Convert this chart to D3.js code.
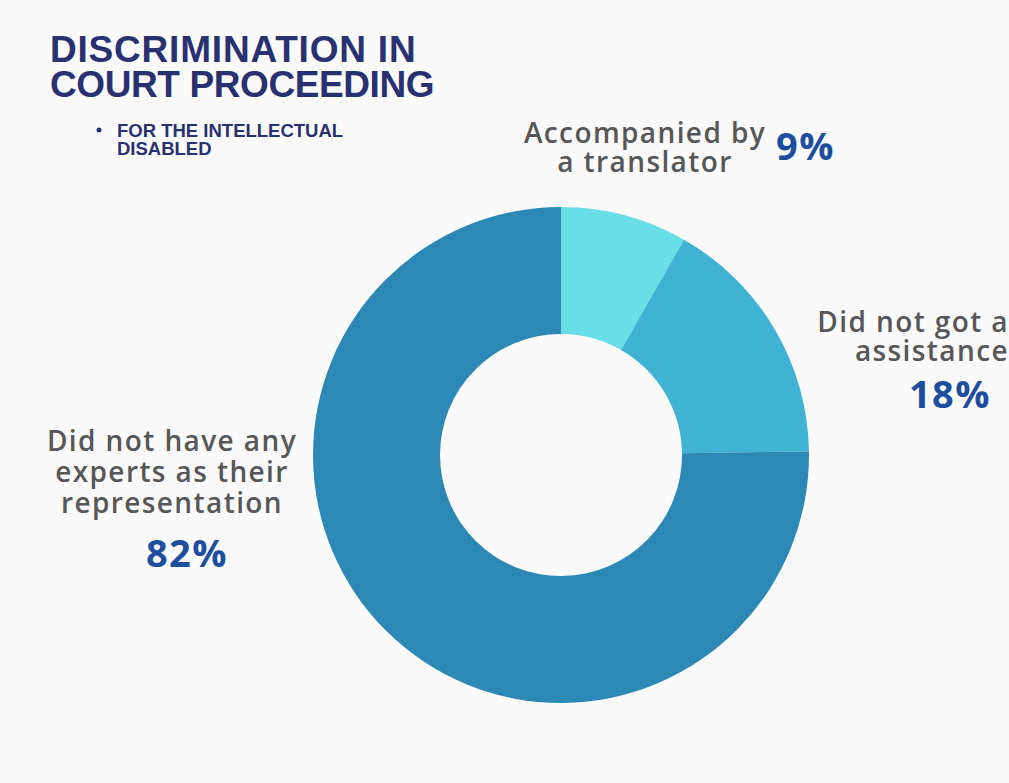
<!DOCTYPE html>
<html>
<head>
<meta charset="utf-8">
<script src="https://cdn.jsdelivr.net/npm/d3@7"></script>
<style>
  body { margin: 0; background: #fafafa; }
  svg { display: block; }
</style>
</head>
<body>
<div id="chart"></div>
<script>
const categories = ["Accompanied by a translator", "Did not got a assistance", "Did not have any experts as their representation"];
const values = [9, 18, 82];
const percentLabels = ["9%", "18%", "82%"];
const colors = ["#68dfe6", "#3eb3d4", "#2c88b5"];

const width = 1009, height = 783;
const cx = 561, cy = 455, outerR = 248, innerR = 121;

const svg = d3.select("#chart")
  .append("svg")
  .attr("width", width)
  .attr("height", height);

svg.append("rect")
  .attr("width", width)
  .attr("height", height)
  .attr("fill", "#fafafa");

// title
const title = svg.append("text")
  .attr("font-family", "Liberation Sans, Arial, sans-serif")
  .attr("font-weight", "bold")
  .attr("font-size", 37)
  .attr("fill", "#2a3170");
title.append("tspan").attr("x", 50).attr("y", 62).attr("letter-spacing", 0.8).text("DISCRIMINATION IN");
title.append("tspan").attr("x", 50).attr("y", 97).attr("letter-spacing", -0.4).text("COURT PROCEEDING");

svg.append("circle")
  .attr("cx", 99)
  .attr("cy", 130)
  .attr("r", 2.5)
  .attr("fill", "#2a3170");

const sub = svg.append("text")
  .attr("font-family", "Liberation Sans, Arial, sans-serif")
  .attr("font-weight", "bold")
  .attr("font-size", 18.5)
  .attr("fill", "#2a3170");
sub.append("tspan").attr("x", 117).attr("y", 137).text("FOR THE INTELLECTUAL");
sub.append("tspan").attr("x", 117).attr("y", 155).text("DISABLED");

// donut
const pie = d3.pie().sort(null).value(d => d)(values);
const arc = d3.arc().innerRadius(innerR).outerRadius(outerR);

svg.append("g")
  .attr("transform", `translate(${cx},${cy})`)
  .selectAll("path")
  .data(pie)
  .join("path")
  .attr("d", arc)
  .attr("fill", (d, i) => colors[i]);

// labels
const labelFont = "Open Sans, Noto Sans, sans-serif";
const grey = "#575757";
const blue = "#1e4f9e";

function labelLines(lines, x, y0, step, anchor) {
  lines.forEach((s, i) => {
    svg.append("text")
      .attr("x", x)
      .attr("y", y0 + i * step)
      .attr("font-family", labelFont)
      .attr("font-weight", 600)
      .attr("font-size", 28)
      .attr("letter-spacing", 1.4)
      .attr("fill", grey)
      .attr("text-anchor", anchor)
      .text(s);
  });
}

function pct(text, x, y, anchor) {
  svg.append("text")
    .attr("x", x)
    .attr("y", y)
    .attr("font-family", labelFont)
    .attr("font-weight", 700)
    .attr("font-size", 38)
    .attr("letter-spacing", 1.5)
    .attr("fill", blue)
    .attr("text-anchor", anchor)
    .text(text);
}

labelLines(["Accompanied by", "a translator"], 645, 143, 29, "middle");
pct(percentLabels[0], 776, 160, "start");

labelLines(["Did not got a", "assistance"], 1009, 332, 29, "end");
pct(percentLabels[1], 950, 408, "middle");

labelLines(["Did not have any", "experts as their", "representation"], 172, 451, 31, "middle");
pct(percentLabels[2], 187, 567, "middle");
</script>
</body>
</html>
